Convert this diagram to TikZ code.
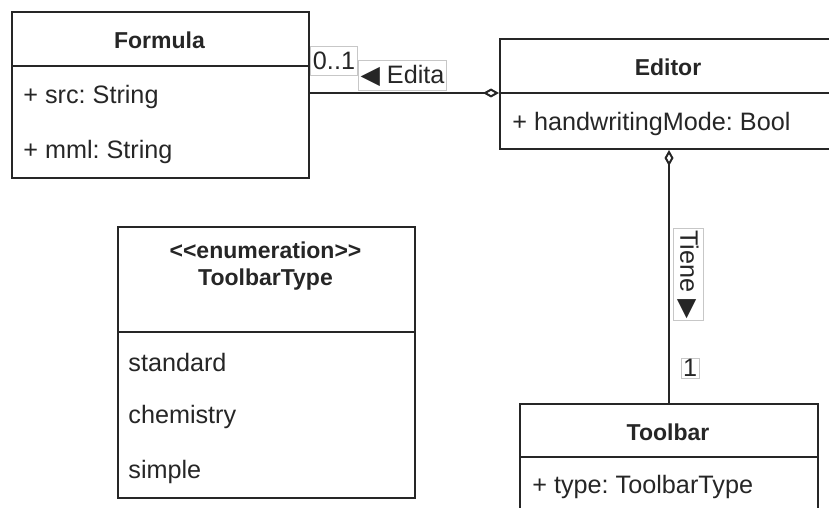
\documentclass[tikz,border=0pt]{standalone}
\usepackage{fontspec}
\setmainfont{Liberation Sans}
\newfontfamily\symfont{DejaVu Sans}
\usetikzlibrary{arrows.meta}
\frenchspacing

\newcommand\umlfont{\fontsize{12.6}{14}\selectfont}
\newcommand\umlbold{\fontsize{11.5}{14}\selectfont\bfseries}

\tikzset{
  umlbox/.style={draw=black!85, line width=1pt, anchor=north west, inner sep=0pt},
  divider/.style={draw=black!85, line width=1pt},
  classname/.style={font=\umlbold, text=black!85, inner sep=0pt},
  attr/.style={anchor=west, text=black!85, inner sep=0pt},
  mult/.style={draw=black!22, line width=0.5pt, fill=white, text=black!85, inner xsep=1pt, inner ysep=0pt},
  aggr/.style={draw=black!85, line width=1pt, {Diamond[open, length=8pt, width=4.5pt]}-},
}

\begin{document}
\begin{tikzpicture}[x=0.5pt, y=-0.5pt, font=\umlfont]
  \useasboundingbox[fill=white] (0,0) rectangle (829,508);

  %% classes
  \node[umlbox, minimum width=148.5pt, minimum height=83pt] (formula) at (11,11) {};
  \draw[divider] (formula.north west) ++(0,55) -- ++(297,0);
  \node[classname] (formulaname) at (159.5,40) {Formula};
  \node[attr] (formulasrc) at (23,97) {+ src: String};
  \node[attr] (formulamml) at (23,152) {+ mml: String};

  \node[umlbox, minimum width=169pt, minimum height=55pt] (editor) at (499,38) {};
  \draw[divider] (editor.north west) ++(0,55) -- ++(338,0);
  \node[classname] (editorname) at (668,67) {Editor};
  \node[attr] (editormode) at (512,124) {+ handwritingMode: Bool};

  \node[umlbox, minimum width=148.5pt, minimum height=135.5pt] (toolbartype) at (117,226) {};
  \draw[divider] (toolbartype.north west) ++(0,106) -- ++(297,0);
  \node[classname] (enumtag) at (265.5,250) {<\kern0pt<enumeration>\kern0pt>};
  \node[classname] (enumname) at (265.5,280) {ToolbarType};
  \node[attr] (enumstd) at (128,362) {standard};
  \node[attr] (enumchem) at (128,417) {chemistry};
  \node[attr] (enumsimple) at (128,472) {simple};

  \node[umlbox, minimum width=149pt, minimum height=65pt] (toolbar) at (519,403) {};
  \draw[divider] (toolbar.north west) ++(0,54) -- ++(298,0);
  \node[classname] (toolbarname) at (668,432) {Toolbar};
  \node[attr] (toolbartypeattr) at (532,487) {+ type: ToolbarType};

  %% associations
  \draw[aggr] (editor.west |- 0,93) -- (formula.east |- 0,93);
  \draw[aggr] (editor.south) -- (toolbar.north);

  \node[mult, minimum height=14.5pt] (lblformula) at (334,61) {0..1};
  \node[mult, minimum height=15pt] (lbledita) at (402.5,76) {{\symfont ◀} Edita};
  \node[mult, minimum height=15pt, rotate=-90] (lbltiene) at (688,274.5) {Tiene {\symfont ▶}};
  \node[mult, minimum height=10pt] (lbltoolbar) at (690,368) {1};
\end{tikzpicture}
\end{document}
